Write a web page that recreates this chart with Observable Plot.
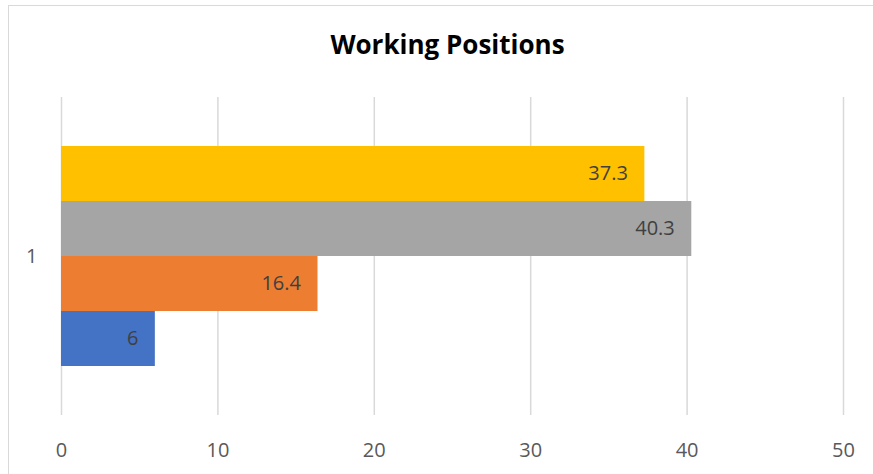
<!DOCTYPE html>
<html><head><meta charset="utf-8">
<script src="https://cdn.jsdelivr.net/npm/d3@7"></script>
<script src="https://cdn.jsdelivr.net/npm/@observablehq/plot@0.6"></script>
<style>
body{margin:0;background:#fff;font-family:"Open Sans",sans-serif;}
#wrap{position:relative;width:873px;height:474px;overflow:hidden;}
#border{position:absolute;left:8px;top:5px;width:900px;height:500px;border:1.5px solid #d9d9d9;pointer-events:none;}
</style></head>
<body><div id="wrap"><div id="border"></div></div>
<script>
const title = "Working Positions";
const categories = ["1"];
const series = ["Series1","Series2","Series3","Series4"];
const values = [6, 16.4, 40.3, 37.3];
const colors = ["#4472C4","#ED7D31","#A5A5A5","#FFC000"];
const xTicks = [0,10,20,30,40,50];

const rows = series.map((s,i)=>({category: categories[0], series: s, value: values[i]}));

const chart = Plot.plot({
  width: 873, height: 474,
  marginLeft: 61, marginRight: 30, marginTop: 97, marginBottom: 59,
  style: {fontFamily: "Open Sans, sans-serif", color: "#595959", background: "transparent"},
  x: {domain: [0,50], label: null},
  fy: {domain: categories, padding: 0, label: null},
  y: {domain: series.slice().reverse(), axis: null, paddingInner: 0, paddingOuter: 0.89},
  color: {domain: series, range: colors},
  marks: [
    Plot.ruleX(xTicks, {stroke: "#d9d9d9", strokeWidth: 1.5, strokeOpacity: 1}),
    Plot.axisX({ticks: xTicks, tickSize: 0, tickPadding: 27, fontSize: 20, fill: "#595959", label: null}),
    Plot.axisFy({anchor: "left", tickSize: 0, tickPadding: 24, fontSize: 20, fill: "#595959", label: null}),
    Plot.barX(rows, {x: "value", y: "series", fy: "category", fill: "series"}),
    Plot.text(rows, {x: "value", y: "series", fy: "category", text: d => String(d.value), textAnchor: "end", dx: -17, fill: "#404040", fontSize: 20}),
    Plot.text([title], {frameAnchor: "top", lineAnchor: "middle", dy: -52, dx: -5, text: d => d, fontWeight: "bold", fontSize: 26, fill: "#000"})
  ]
});
document.getElementById("wrap").prepend(chart);
</script>
</body></html>
